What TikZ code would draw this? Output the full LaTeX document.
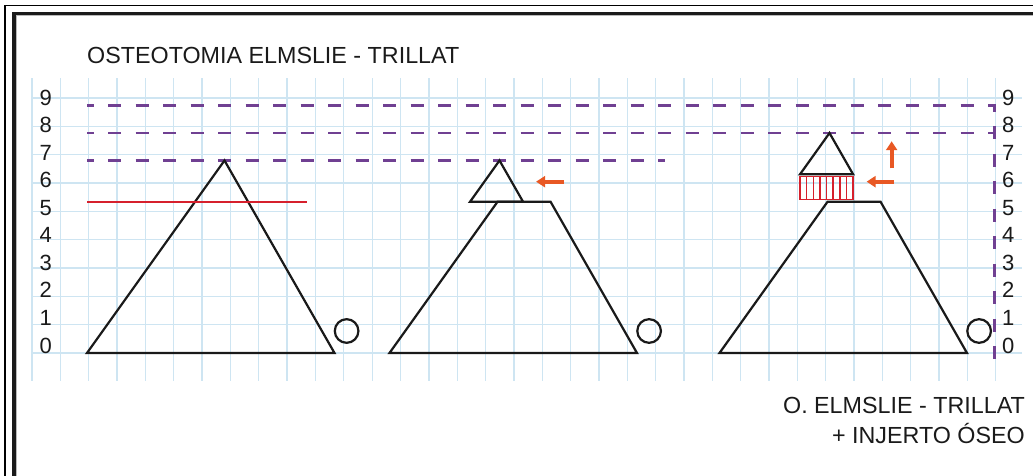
\documentclass[tikz,border=0pt]{standalone}
\usepackage{fontspec}
\setmainfont{Liberation Sans}
\usetikzlibrary{arrows.meta}
\definecolor{gridc}{RGB}{206,229,242}
\definecolor{purp}{RGB}{112,64,146}
\definecolor{redc}{RGB}{214,32,44}
\definecolor{orng}{RGB}{232,88,36}
\definecolor{inkc}{RGB}{26,26,26}
\tikzset{
  bone/.style={draw=inkc, line width=2.2bp, line join=miter},
  cut/.style={draw=redc, line width=2bp},
  ref/.style={draw=purp, line width=2.5bp, dash pattern=on 13bp off 14.5bp, dash phase=6.5bp},
  mover/.style={draw=orng, line width=4bp, -{Triangle[width=11bp,length=9bp]}},
  lvl/.style={font=\fontsize{22bp}{26bp}\selectfont, text=inkc, inner sep=0pt, anchor=base},
  ttl/.style={font=\fontsize{23.3bp}{28bp}\selectfont, text=inkc, inner sep=0pt},
  patella/.style={draw=inkc, line width=2.2bp},
  graft/.style={draw=redc, line width=1.8bp}
}
\begin{document}
\begin{tikzpicture}[x=27.5bp, y=27.5bp]
\useasboundingbox (-32bp,-123bp) rectangle (1001bp,353bp);
\fill[white] (-32bp,-123bp) rectangle (1001bp,353bp);
% frames
\draw[black, line width=1.2bp] (-27bp,-130bp) -- (-27bp,347.5bp) -- (1010bp,347.5bp);
\draw[inkc, line width=3.5bp] (-18bp,-130bp) -- (-18bp,339.5bp) -- (1010bp,339.5bp);
\draw[gray!55, line width=1bp] (-15.8bp,-130bp) -- (-15.8bp,337.2bp) -- (1010bp,337.2bp);
% grid
\draw[gridc, line width=1.3bp] (0,-1) grid (36,10);
% reference dashed lines
\draw[ref] (2,7) -- (23,7);
\draw[ref] (2,8) -- (35,8);
\draw[ref] (2,9) -- (35,9) -- (35,-0.5);
% level labels
\foreach \k in {0,...,9}{
  \node[lvl] (L\k) at (0.5,\k) {\k};
  \node[lvl] (R\k) at (35.5,\k) {\k};
}
% titles
\node[ttl, anchor=base west] (title) at (2,10.535) {OSTEOTOMIA ELMSLIE - TRILLAT};
\node[ttl, anchor=base east] (cap1) at (36.11,-2.193) {O. ELMSLIE - TRILLAT};
\node[ttl, anchor=base east] (cap2) at (36.11,-3.284) {+ INJERTO ÓSEO};
% figure 1
\draw[bone] (2,0) -- (7,7) -- (11,0) -- cycle;
\draw[cut] (2,5.5) -- (10,5.5);
\draw[patella] (11.44,0.8) circle (0.43);
% figure 2
\draw[bone] (13,0) -- (16.929,5.5) -- (18.857,5.5) -- (22,0) -- cycle;
\draw[bone] (15.929,5.5) -- (17,7) -- (17.857,5.5) -- cycle;
\draw[patella] (22.44,0.8) circle (0.43);
\coordinate (a2s) at (19.35,6.23);
\coordinate (a2e) at (18.33,6.23);
\draw[mover] (a2s) -- (a2e);
% figure 3
\draw[bone] (25,0) -- (28.929,5.5) -- (30.857,5.5) -- (34,0) -- cycle;
\draw[graft] (27.929,5.58) rectangle (29.857,6.42);
\foreach \i in {1,...,7}{
  \draw[redc, line width=1.4bp] ({27.929+\i*1.928/8},5.58) -- ({27.929+\i*1.928/8},6.42);
}
\draw[bone] (27.929,6.5) -- (29,8) -- (29.857,6.5) -- cycle;
\draw[patella] (34.44,0.8) circle (0.43);
\coordinate (a3s) at (31.35,6.23);
\coordinate (a3e) at (30.35,6.23);
\draw[mover] (a3s) -- (a3e);
\coordinate (a4s) at (31.26,6.71);
\coordinate (a4e) at (31.26,7.7);
\draw[mover] (a4s) -- (a4e);
\end{tikzpicture}
\end{document}
